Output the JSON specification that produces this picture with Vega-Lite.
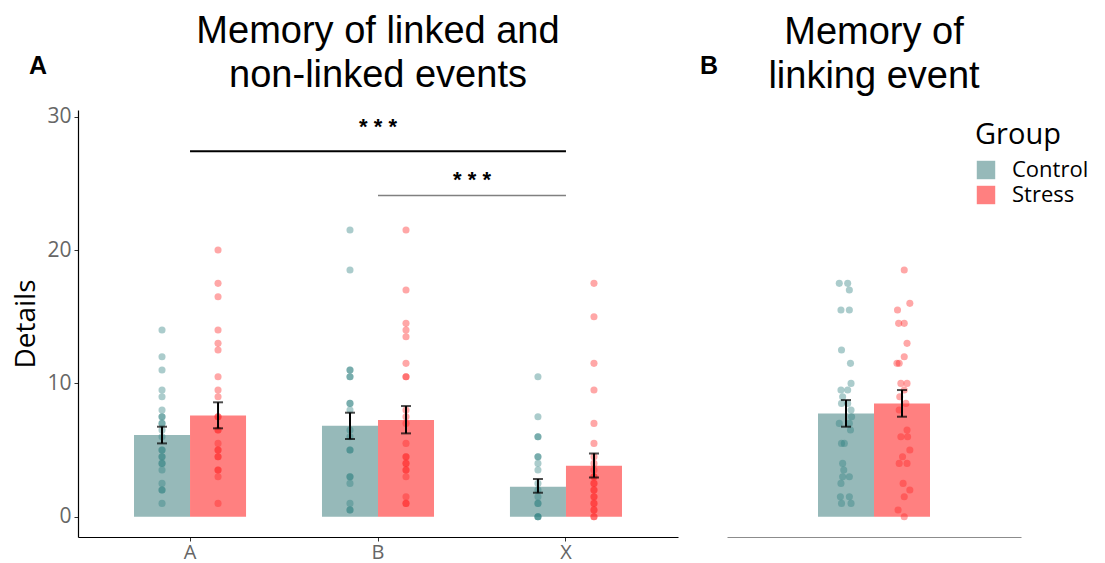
{
  "$schema": "https://vega.github.io/schema/vega-lite/v6.json",
  "background": "white",
  "padding": {"left": 12, "top": 12, "right": 4, "bottom": 2},
  "spacing": 22,
  "config": {
    "view": {"stroke": null},
    "font": "Open Sans",
    "axis": {"grid": false, "labelFont": "Open Sans", "titleFont": "Open Sans"},
    "legend": {"padding": 0}
  },
  "datasets": {
    "bars": [
      {"event": "A", "Group": "Control", "mean": 6.13, "lo": 5.5, "hi": 6.75},
      {"event": "A", "Group": "Stress", "mean": 7.6, "lo": 6.63, "hi": 8.58},
      {"event": "B", "Group": "Control", "mean": 6.82, "lo": 5.83, "hi": 7.8},
      {"event": "B", "Group": "Stress", "mean": 7.25, "lo": 6.25, "hi": 8.3},
      {"event": "X", "Group": "Control", "mean": 2.25, "lo": 1.8, "hi": 2.83},
      {"event": "X", "Group": "Stress", "mean": 3.83, "lo": 2.95, "hi": 4.75}
    ],
    "barsB": [
      {"Group": "Control", "mean": 7.75, "lo": 6.75, "hi": 8.75},
      {"Group": "Stress", "mean": 8.5, "lo": 7.5, "hi": 9.5}
    ],
    "pts": [
      {"event": "A", "Group": "Control", "Details": 14},
      {"event": "A", "Group": "Control", "Details": 12},
      {"event": "A", "Group": "Control", "Details": 11},
      {"event": "A", "Group": "Control", "Details": 9.5},
      {"event": "A", "Group": "Control", "Details": 9},
      {"event": "A", "Group": "Control", "Details": 8},
      {"event": "A", "Group": "Control", "Details": 7.5},
      {"event": "A", "Group": "Control", "Details": 7.5},
      {"event": "A", "Group": "Control", "Details": 7},
      {"event": "A", "Group": "Control", "Details": 7},
      {"event": "A", "Group": "Control", "Details": 6.5},
      {"event": "A", "Group": "Control", "Details": 6},
      {"event": "A", "Group": "Control", "Details": 5},
      {"event": "A", "Group": "Control", "Details": 5},
      {"event": "A", "Group": "Control", "Details": 4.5},
      {"event": "A", "Group": "Control", "Details": 4.5},
      {"event": "A", "Group": "Control", "Details": 4},
      {"event": "A", "Group": "Control", "Details": 4},
      {"event": "A", "Group": "Control", "Details": 3.5},
      {"event": "A", "Group": "Control", "Details": 2.5},
      {"event": "A", "Group": "Control", "Details": 2},
      {"event": "A", "Group": "Control", "Details": 2},
      {"event": "A", "Group": "Control", "Details": 1},
      {"event": "A", "Group": "Stress", "Details": 20},
      {"event": "A", "Group": "Stress", "Details": 17.5},
      {"event": "A", "Group": "Stress", "Details": 16.5},
      {"event": "A", "Group": "Stress", "Details": 14},
      {"event": "A", "Group": "Stress", "Details": 13},
      {"event": "A", "Group": "Stress", "Details": 12.5},
      {"event": "A", "Group": "Stress", "Details": 10.5},
      {"event": "A", "Group": "Stress", "Details": 9.5},
      {"event": "A", "Group": "Stress", "Details": 9},
      {"event": "A", "Group": "Stress", "Details": 7.5},
      {"event": "A", "Group": "Stress", "Details": 7.5},
      {"event": "A", "Group": "Stress", "Details": 6.5},
      {"event": "A", "Group": "Stress", "Details": 6.5},
      {"event": "A", "Group": "Stress", "Details": 5.5},
      {"event": "A", "Group": "Stress", "Details": 5},
      {"event": "A", "Group": "Stress", "Details": 5},
      {"event": "A", "Group": "Stress", "Details": 4.5},
      {"event": "A", "Group": "Stress", "Details": 4.5},
      {"event": "A", "Group": "Stress", "Details": 3.5},
      {"event": "A", "Group": "Stress", "Details": 3.5},
      {"event": "A", "Group": "Stress", "Details": 3},
      {"event": "A", "Group": "Stress", "Details": 1},
      {"event": "B", "Group": "Control", "Details": 21.5},
      {"event": "B", "Group": "Control", "Details": 18.5},
      {"event": "B", "Group": "Control", "Details": 11},
      {"event": "B", "Group": "Control", "Details": 11},
      {"event": "B", "Group": "Control", "Details": 10.5},
      {"event": "B", "Group": "Control", "Details": 10.5},
      {"event": "B", "Group": "Control", "Details": 8.5},
      {"event": "B", "Group": "Control", "Details": 8.5},
      {"event": "B", "Group": "Control", "Details": 8},
      {"event": "B", "Group": "Control", "Details": 6.5},
      {"event": "B", "Group": "Control", "Details": 6},
      {"event": "B", "Group": "Control", "Details": 5},
      {"event": "B", "Group": "Control", "Details": 5},
      {"event": "B", "Group": "Control", "Details": 3},
      {"event": "B", "Group": "Control", "Details": 3},
      {"event": "B", "Group": "Control", "Details": 2.5},
      {"event": "B", "Group": "Control", "Details": 1},
      {"event": "B", "Group": "Control", "Details": 0.5},
      {"event": "B", "Group": "Control", "Details": 0.5},
      {"event": "B", "Group": "Stress", "Details": 21.5},
      {"event": "B", "Group": "Stress", "Details": 17},
      {"event": "B", "Group": "Stress", "Details": 14.5},
      {"event": "B", "Group": "Stress", "Details": 14},
      {"event": "B", "Group": "Stress", "Details": 13.5},
      {"event": "B", "Group": "Stress", "Details": 11.5},
      {"event": "B", "Group": "Stress", "Details": 10.5},
      {"event": "B", "Group": "Stress", "Details": 10.5},
      {"event": "B", "Group": "Stress", "Details": 8},
      {"event": "B", "Group": "Stress", "Details": 7.5},
      {"event": "B", "Group": "Stress", "Details": 7},
      {"event": "B", "Group": "Stress", "Details": 5.5},
      {"event": "B", "Group": "Stress", "Details": 4.5},
      {"event": "B", "Group": "Stress", "Details": 4.5},
      {"event": "B", "Group": "Stress", "Details": 4},
      {"event": "B", "Group": "Stress", "Details": 4},
      {"event": "B", "Group": "Stress", "Details": 3.5},
      {"event": "B", "Group": "Stress", "Details": 3.5},
      {"event": "B", "Group": "Stress", "Details": 3},
      {"event": "B", "Group": "Stress", "Details": 1.5},
      {"event": "B", "Group": "Stress", "Details": 1},
      {"event": "B", "Group": "Stress", "Details": 1},
      {"event": "X", "Group": "Control", "Details": 10.5},
      {"event": "X", "Group": "Control", "Details": 7.5},
      {"event": "X", "Group": "Control", "Details": 6},
      {"event": "X", "Group": "Control", "Details": 6},
      {"event": "X", "Group": "Control", "Details": 4.5},
      {"event": "X", "Group": "Control", "Details": 4.5},
      {"event": "X", "Group": "Control", "Details": 4},
      {"event": "X", "Group": "Control", "Details": 3.5},
      {"event": "X", "Group": "Control", "Details": 2.5},
      {"event": "X", "Group": "Control", "Details": 2},
      {"event": "X", "Group": "Control", "Details": 1.5},
      {"event": "X", "Group": "Control", "Details": 1},
      {"event": "X", "Group": "Control", "Details": 1},
      {"event": "X", "Group": "Control", "Details": 0},
      {"event": "X", "Group": "Control", "Details": 0},
      {"event": "X", "Group": "Control", "Details": 0},
      {"event": "X", "Group": "Stress", "Details": 17.5},
      {"event": "X", "Group": "Stress", "Details": 15},
      {"event": "X", "Group": "Stress", "Details": 11.5},
      {"event": "X", "Group": "Stress", "Details": 9.5},
      {"event": "X", "Group": "Stress", "Details": 7},
      {"event": "X", "Group": "Stress", "Details": 5.5},
      {"event": "X", "Group": "Stress", "Details": 4.5},
      {"event": "X", "Group": "Stress", "Details": 4},
      {"event": "X", "Group": "Stress", "Details": 3.5},
      {"event": "X", "Group": "Stress", "Details": 3},
      {"event": "X", "Group": "Stress", "Details": 3},
      {"event": "X", "Group": "Stress", "Details": 2.5},
      {"event": "X", "Group": "Stress", "Details": 2.5},
      {"event": "X", "Group": "Stress", "Details": 2},
      {"event": "X", "Group": "Stress", "Details": 2},
      {"event": "X", "Group": "Stress", "Details": 1.5},
      {"event": "X", "Group": "Stress", "Details": 1.5},
      {"event": "X", "Group": "Stress", "Details": 1},
      {"event": "X", "Group": "Stress", "Details": 1},
      {"event": "X", "Group": "Stress", "Details": 0.5},
      {"event": "X", "Group": "Stress", "Details": 0.5},
      {"event": "X", "Group": "Stress", "Details": 0},
      {"event": "X", "Group": "Stress", "Details": 0}
    ],
    "ptsB": [
      {"Group": "Control", "Details": 17.5, "jitter": -0.12},
      {"Group": "Control", "Details": 17.5, "jitter": 0.03},
      {"Group": "Control", "Details": 17, "jitter": 0.06},
      {"Group": "Control", "Details": 15.5, "jitter": -0.09},
      {"Group": "Control", "Details": 15.5, "jitter": 0.06},
      {"Group": "Control", "Details": 12.5, "jitter": -0.08},
      {"Group": "Control", "Details": 11.5, "jitter": 0.08},
      {"Group": "Control", "Details": 10, "jitter": 0.09},
      {"Group": "Control", "Details": 9.5, "jitter": -0.09},
      {"Group": "Control", "Details": 9.5, "jitter": 0.03},
      {"Group": "Control", "Details": 9, "jitter": -0.06},
      {"Group": "Control", "Details": 8.5, "jitter": -0.08},
      {"Group": "Control", "Details": 8.5, "jitter": 0.03},
      {"Group": "Control", "Details": 8, "jitter": 0.09},
      {"Group": "Control", "Details": 7.5, "jitter": 0.1},
      {"Group": "Control", "Details": 7, "jitter": -0.12},
      {"Group": "Control", "Details": 7, "jitter": 0.06},
      {"Group": "Control", "Details": 6.5, "jitter": 0.08},
      {"Group": "Control", "Details": 5.5, "jitter": -0.08},
      {"Group": "Control", "Details": 5.5, "jitter": -0.03},
      {"Group": "Control", "Details": 4, "jitter": -0.06},
      {"Group": "Control", "Details": 3.5, "jitter": -0.04},
      {"Group": "Control", "Details": 3, "jitter": -0.06},
      {"Group": "Control", "Details": 3, "jitter": 0.06},
      {"Group": "Control", "Details": 2.5, "jitter": -0.09},
      {"Group": "Control", "Details": 1.5, "jitter": -0.1},
      {"Group": "Control", "Details": 1.5, "jitter": 0.06},
      {"Group": "Control", "Details": 1, "jitter": -0.08},
      {"Group": "Control", "Details": 1, "jitter": 0.09},
      {"Group": "Stress", "Details": 18.5, "jitter": 0.04},
      {"Group": "Stress", "Details": 16, "jitter": 0.14},
      {"Group": "Stress", "Details": 15.5, "jitter": -0.08},
      {"Group": "Stress", "Details": 14.5, "jitter": -0.06},
      {"Group": "Stress", "Details": 14.5, "jitter": 0.04},
      {"Group": "Stress", "Details": 13, "jitter": 0.09},
      {"Group": "Stress", "Details": 12, "jitter": 0.04},
      {"Group": "Stress", "Details": 11.5, "jitter": -0.09},
      {"Group": "Stress", "Details": 11.5, "jitter": -0.05},
      {"Group": "Stress", "Details": 10, "jitter": -0.02},
      {"Group": "Stress", "Details": 10, "jitter": 0.09},
      {"Group": "Stress", "Details": 9.5, "jitter": 0.04},
      {"Group": "Stress", "Details": 9, "jitter": -0.04},
      {"Group": "Stress", "Details": 8.5, "jitter": 0.07},
      {"Group": "Stress", "Details": 8, "jitter": -0.05},
      {"Group": "Stress", "Details": 6.5, "jitter": 0.09},
      {"Group": "Stress", "Details": 6, "jitter": -0.02},
      {"Group": "Stress", "Details": 6, "jitter": 0.1},
      {"Group": "Stress", "Details": 5, "jitter": 0.14},
      {"Group": "Stress", "Details": 4.5, "jitter": 0.01},
      {"Group": "Stress", "Details": 4, "jitter": -0.05},
      {"Group": "Stress", "Details": 4, "jitter": 0.09},
      {"Group": "Stress", "Details": 2.5, "jitter": 0.02},
      {"Group": "Stress", "Details": 2, "jitter": 0.14},
      {"Group": "Stress", "Details": 1.5, "jitter": 0.04},
      {"Group": "Stress", "Details": 0.5, "jitter": -0.07},
      {"Group": "Stress", "Details": 0, "jitter": 0.04}
    ]
  },
  "hconcat": [
    {
      "title": {"text": "A", "anchor": "start", "frame": "bounds", "font": "Liberation Sans", "fontSize": 25, "fontWeight": "bold", "color": "black", "offset": 0, "dx": 16, "dy": 66},
      "vconcat": [
        {
          "title": {"text": ["Memory of linked and", "non-linked events"], "anchor": "middle", "frame": "group", "font": "Liberation Sans", "fontSize": 38, "fontWeight": "normal", "lineHeight": 44, "offset": 11, "color": "black"},
          "width": 600,
          "height": 427,
          "layer": [
            {
              "data": {"name": "bars"},
              "mark": {"type": "bar", "opacity": 1},
              "encoding": {
                "x": {"field": "event", "type": "nominal", "title": null, "scale": {"type": "band", "domain": ["A", "B", "X"], "paddingInner": 0.404, "paddingOuter": 0.298},
                  "axis": {"title": null, "labelAngle": 0, "domainColor": "black", "domainWidth": 1.2, "tickColor": "#333333", "tickSize": 4, "labelColor": "#666666", "labelFontSize": 20, "labelPadding": 1}},
                "xOffset": {"field": "Group", "type": "nominal", "scale": {"domain": ["Control", "Stress"], "paddingInner": 0, "paddingOuter": 0}},
                "y": {"field": "mean", "type": "quantitative", "scale": {"domain": [-1.52, 30.5], "nice": false, "zero": false},
                  "axis": {"title": "Details", "values": [0, 10, 20, 30], "domainColor": "black", "domainWidth": 1.2, "tickColor": "#333333", "tickSize": 4, "labelColor": "#666666", "labelFontSize": 21, "labelPadding": 3, "titleFontSize": 28, "titleColor": "black", "titleFontWeight": "normal", "titlePadding": 6}},
                "y2": {"datum": 0},
                "color": {"field": "Group", "type": "nominal", "scale": {"domain": ["Control", "Stress"], "range": ["#96B9B9", "#FF8080"]},
                  "legend": {"orient": "none", "legendX": 897, "legendY": 11, "title": "Group", "titleFont": "Open Sans", "titleFontSize": 29, "titleFontWeight": "normal", "titleColor": "black", "titlePadding": 9, "labelFont": "Open Sans", "labelFontSize": 22, "labelColor": "black", "labelOffset": 15, "symbolType": "square", "symbolSize": 340, "symbolStrokeWidth": 0, "symbolOpacity": 1, "rowPadding": 3}}
              }
            },
            {
              "data": {"name": "pts"},
              "mark": {"type": "circle", "size": 50, "opacity": 0.4},
              "encoding": {
                "x": {"field": "event", "type": "nominal", "title": null},
                "xOffset": {"field": "Group", "type": "nominal"},
                "y": {"field": "Details", "type": "quantitative"},
                "fill": {"field": "Group", "type": "nominal", "scale": {"domain": ["Control", "Stress"], "range": ["#2E7F7F", "#FF2222"]}, "legend": null}
              }
            },
            {
              "data": {"name": "bars"},
              "mark": {"type": "rule", "color": "black", "strokeWidth": 2},
              "encoding": {
                "x": {"field": "event", "type": "nominal", "title": null},
                "xOffset": {"field": "Group", "type": "nominal"},
                "y": {"field": "lo", "type": "quantitative"},
                "y2": {"field": "hi"}
              }
            },
            {
              "data": {"name": "bars"},
              "mark": {"type": "tick", "color": "black", "size": 10, "thickness": 2},
              "encoding": {
                "x": {"field": "event", "type": "nominal", "title": null},
                "xOffset": {"field": "Group", "type": "nominal"},
                "y": {"field": "lo", "type": "quantitative"}
              }
            },
            {
              "data": {"name": "bars"},
              "mark": {"type": "tick", "color": "black", "size": 10, "thickness": 2},
              "encoding": {
                "x": {"field": "event", "type": "nominal", "title": null},
                "xOffset": {"field": "Group", "type": "nominal"},
                "y": {"field": "hi", "type": "quantitative"}
              }
            },
            {
              "data": {"values": [{"from": "A", "to": "X", "y": 27.4}]},
              "mark": {"type": "rule", "color": "black", "strokeWidth": 2},
              "encoding": {
                "x": {"field": "from", "type": "nominal", "title": null},
                "x2": {"field": "to"},
                "y": {"field": "y", "type": "quantitative"}
              }
            },
            {
              "data": {"values": [{"from": "B", "to": "X", "y": 24.08}]},
              "mark": {"type": "rule", "color": "#808080", "strokeWidth": 1.5},
              "encoding": {
                "x": {"field": "from", "type": "nominal", "title": null},
                "x2": {"field": "to"},
                "y": {"field": "y", "type": "quantitative"}
              }
            },
            {
              "data": {"values": [{"mid": "B", "y": 29.25, "label": "* * *"}]},
              "mark": {"type": "text", "font": "Liberation Sans", "fontSize": 22, "fontWeight": "bold", "color": "black", "baseline": "middle"},
              "encoding": {
                "x": {"field": "mid", "type": "nominal", "title": null},
                "y": {"field": "y", "type": "quantitative"},
                "text": {"field": "label"}
              }
            },
            {
              "data": {"values": [{"mid": "B", "y": 25.26, "label": "* * *"}]},
              "mark": {"type": "text", "font": "Liberation Sans", "fontSize": 22, "fontWeight": "bold", "color": "black", "baseline": "middle", "dx": 94},
              "encoding": {
                "x": {"field": "mid", "type": "nominal", "title": null},
                "y": {"field": "y", "type": "quantitative"},
                "text": {"field": "label"}
              }
            }
          ]
        }
      ]
    },
    {
      "title": {"text": "B", "anchor": "start", "frame": "bounds", "font": "Liberation Sans", "fontSize": 25, "fontWeight": "bold", "color": "black", "offset": 0, "dx": -27, "dy": 65},
      "vconcat": [
        {
          "title": {"text": ["Memory of", "linking event"], "anchor": "middle", "frame": "group", "font": "Liberation Sans", "fontSize": 38, "fontWeight": "normal", "lineHeight": 44, "offset": 14, "color": "black"},
          "width": 294,
          "height": 427,
          "resolve": {"scale": {"xOffset": "independent"}},
          "layer": [
            {
              "data": {"name": "barsB"},
              "mark": {"type": "bar", "opacity": 1},
              "encoding": {
                "x": {"field": "Group", "type": "nominal", "title": null, "scale": {"type": "band", "domain": ["", "Control", "Stress", " "], "paddingInner": 0, "paddingOuter": 0.625},
                  "axis": {"title": null, "labels": false, "ticks": false, "domainColor": "#8C8C8C", "domainWidth": 1.2}},
                "y": {"field": "mean", "type": "quantitative", "scale": {"domain": [-1.52, 30.5], "nice": false, "zero": false}, "axis": null},
                "y2": {"datum": 0},
                "color": {"field": "Group", "type": "nominal"}
              }
            },
            {
              "data": {"name": "ptsB"},
              "mark": {"type": "circle", "size": 50, "opacity": 0.4},
              "encoding": {
                "x": {"field": "Group", "type": "nominal", "title": null},
                "xOffset": {"field": "jitter", "type": "quantitative", "scale": {"domain": [-0.5, 0.5]}},
                "y": {"field": "Details", "type": "quantitative"},
                "fill": {"field": "Group", "type": "nominal", "legend": null}
              }
            },
            {
              "data": {"name": "barsB"},
              "mark": {"type": "rule", "color": "black", "strokeWidth": 2},
              "encoding": {
                "x": {"field": "Group", "type": "nominal", "title": null},
                "y": {"field": "lo", "type": "quantitative"},
                "y2": {"field": "hi"}
              }
            },
            {
              "data": {"name": "barsB"},
              "mark": {"type": "tick", "color": "black", "size": 10, "thickness": 2},
              "encoding": {
                "x": {"field": "Group", "type": "nominal", "title": null},
                "y": {"field": "lo", "type": "quantitative"}
              }
            },
            {
              "data": {"name": "barsB"},
              "mark": {"type": "tick", "color": "black", "size": 10, "thickness": 2},
              "encoding": {
                "x": {"field": "Group", "type": "nominal", "title": null},
                "y": {"field": "hi", "type": "quantitative"}
              }
            }
          ]
        }
      ]
    }
  ]
}
